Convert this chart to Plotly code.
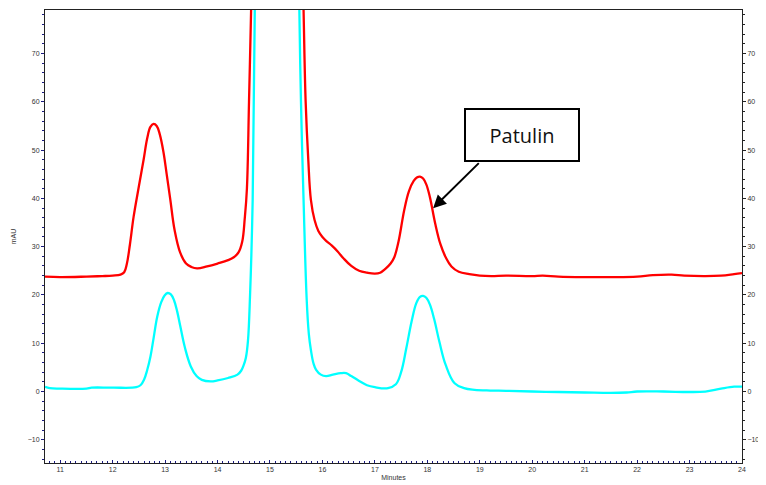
import plotly.graph_objects as go

# Retention time (minutes) and absorbance (mAU)
red_t = [10.71, 11.0, 11.5, 11.8, 12.0, 12.15, 12.22, 12.27, 12.33, 12.40, 12.50, 12.59, 12.66, 12.72,
         12.78, 12.84, 12.90, 12.97, 13.03, 13.10, 13.18, 13.29, 13.40, 13.50, 13.61, 13.80, 14.00,
         14.20, 14.31, 14.40, 14.47, 14.52, 14.56, 14.60, 14.64, 14.70, 15.10, 15.58, 15.64, 15.68,
         15.73, 15.78, 15.85, 15.92, 16.00, 16.07, 16.18, 16.29, 16.40, 16.55, 16.70, 16.85, 17.00,
         17.10, 17.20, 17.30, 17.37, 17.45, 17.56, 17.65, 17.74, 17.80, 17.86, 17.92, 17.98, 18.05,
         18.15, 18.25, 18.35, 18.46, 18.60, 18.80, 19.00, 19.22, 19.50, 20.00, 20.20, 20.50, 21.00,
         21.50, 22.00, 22.30, 22.66, 22.90, 23.30, 23.60, 23.85, 24.00]
red_mau = [23.8, 23.7, 23.8, 23.9, 24.0, 24.2, 24.7, 26.4, 30.5, 36.2, 42.5, 48.0, 52.5, 54.8,
           55.4, 55.0, 53.2, 49.5, 45.0, 39.7, 33.5, 28.7, 26.5, 25.8, 25.5, 25.9, 26.5,
           27.2, 27.8, 28.8, 31.0, 36.0, 42.0, 60.0, 79.0, 110.0, 400.0, 110.0, 79.0, 60.0,
           48.0, 39.7, 35.5, 33.3, 32.0, 31.2, 30.2, 29.0, 27.6, 26.0, 25.0, 24.6, 24.4,
           24.6, 25.4, 26.5, 27.8, 31.0, 37.6, 41.5, 43.6, 44.3, 44.5, 44.1, 42.9, 40.2,
           34.8, 30.5, 27.8, 25.9, 24.8, 24.3, 24.0, 23.9, 24.0, 23.9, 24.0, 23.8, 23.7,
           23.7, 23.8, 24.1, 24.2, 24.0, 23.9, 24.0, 24.3, 24.5]

cyan_t = [10.71, 10.8, 11.0, 11.5, 11.6, 12.0, 12.45, 12.53, 12.60, 12.66, 12.72, 12.78, 12.85, 12.93,
          12.99, 13.05, 13.11, 13.17, 13.23, 13.29, 13.38, 13.49, 13.60, 13.70, 13.87, 14.00, 14.20,
          14.38, 14.45, 14.50, 14.54, 14.58, 14.62, 14.67, 14.71, 14.78, 15.10, 15.50, 15.56, 15.59,
          15.64, 15.70, 15.74, 15.78, 15.83, 15.88, 15.97, 16.07, 16.20, 16.35, 16.45, 16.55, 16.70,
          16.85, 17.00, 17.25, 17.40, 17.50, 17.60, 17.70, 17.79, 17.86, 17.92, 17.98, 18.05, 18.13,
          18.23, 18.35, 18.52, 18.70, 18.90, 19.20, 19.50, 20.00, 20.50, 21.00, 21.50, 21.80, 22.00,
          22.50, 23.00, 23.30, 23.60, 23.85, 24.00]
cyan_mau = [1.0, 0.7, 0.6, 0.6, 0.8, 0.8, 0.9, 1.3, 2.5, 4.5, 7.2, 11.0, 15.5, 18.6,
            19.9, 20.4, 20.1, 18.9, 16.6, 13.5, 9.0, 5.2, 3.2, 2.4, 2.1, 2.3, 2.8,
            3.5, 4.3, 5.5, 7.0, 10.5, 20.0, 39.7, 79.0, 130.0, 420.0, 130.0, 79.0, 60.4,
            39.7, 19.0, 12.0, 8.6, 5.8, 4.5, 3.5, 3.2, 3.5, 3.8, 3.8, 3.2, 2.2,
            1.3, 0.9, 0.7, 1.5, 4.0, 9.0, 14.5, 18.3, 19.6, 19.8, 19.4, 18.0, 15.0,
            10.3, 5.5, 1.7, 0.7, 0.35, 0.2, 0.15, 0.0, -0.1, -0.2, -0.3, -0.2, 0.0,
            0.0, -0.1, 0.0, 0.6, 1.0, 1.0]

x_range = [10.71, 24.0]
y_range = [-14.8, 79.0]
label_tip = (18.11, 37.97)
label_tail = (19.01, 47.6)
label_box = (19.81, 53.1)

fig = go.Figure()
fig.add_trace(go.Scatter(x=cyan_t, y=cyan_mau, mode="lines",
                         line=dict(color="#00ffff", width=2.3, shape="spline", smoothing=1.1),
                         showlegend=False, hoverinfo="skip"))
fig.add_trace(go.Scatter(x=red_t, y=red_mau, mode="lines",
                         line=dict(color="#ff0000", width=2.3, shape="spline", smoothing=1.1),
                         showlegend=False, hoverinfo="skip"))
fig.add_trace(go.Scatter(x=[None], y=[None], yaxis="y2", showlegend=False, hoverinfo="skip"))

tickfont = dict(family="Liberation Sans", size=7, color="#333333")
titlefont = dict(family="Liberation Sans", size=7, color="#333333")

# page body adds an 8px offset, so the figure is sized to fit the 766x485 window
fig.update_layout(
    width=758, height=477,
    margin=dict(l=37, r=24, t=2, b=22, autoexpand=False),
    paper_bgcolor="white", plot_bgcolor="white",
    font=dict(family="Liberation Sans"),
    xaxis=dict(range=x_range, dtick=1, tick0=0, showgrid=False, zeroline=False, automargin=False,
               showline=True, linecolor="#222222", linewidth=1, mirror=True,
               ticks="inside", ticklen=3, tickcolor="#1a1a80", tickwidth=1,
               minor=dict(dtick=0.1, ticks="inside", ticklen=2, tickcolor="#1a1a80"),
               tickfont=tickfont,
               title=dict(text="Minutes", font=titlefont, standoff=2)),
    yaxis=dict(range=y_range, dtick=10, tick0=0, showgrid=False, zeroline=False, automargin=False,
               showline=True, linecolor="#222222", linewidth=1,
               ticks="outside", ticklen=3, tickcolor="#1a1a80", tickwidth=1,
               minor=dict(dtick=2, ticks="outside", ticklen=2, tickcolor="#1a1a80"),
               tickfont=tickfont,
               title=dict(text="mAU", font=titlefont, standoff=10)),
    yaxis2=dict(range=y_range, matches="y", overlaying="y", side="right", dtick=10, tick0=0,
                automargin=False,
                showgrid=False, zeroline=False, showline=True, linecolor="#222222", linewidth=1,
                ticks="outside", ticklen=3, tickcolor="#222222", tickwidth=1,
                minor=dict(dtick=2, ticks="outside", ticklen=2, tickcolor="#222222"),
                tickfont=tickfont),
)

fig.add_annotation(x=label_tip[0], y=label_tip[1], ax=label_tail[0], ay=label_tail[1],
                   axref="x", ayref="y", xref="x", yref="y", text="",
                   showarrow=True, arrowhead=2, arrowsize=1.3, arrowwidth=2, arrowcolor="black")
fig.add_annotation(x=label_box[0], y=label_box[1], xref="x", yref="y", text="Patulin",
                   showarrow=False, font=dict(family="Open Sans", size=20, color="#111111"),
                   bgcolor="white", bordercolor="black", borderwidth=2, borderpad=0,
                   width=112, height=50)

fig.write_html("out.html")
